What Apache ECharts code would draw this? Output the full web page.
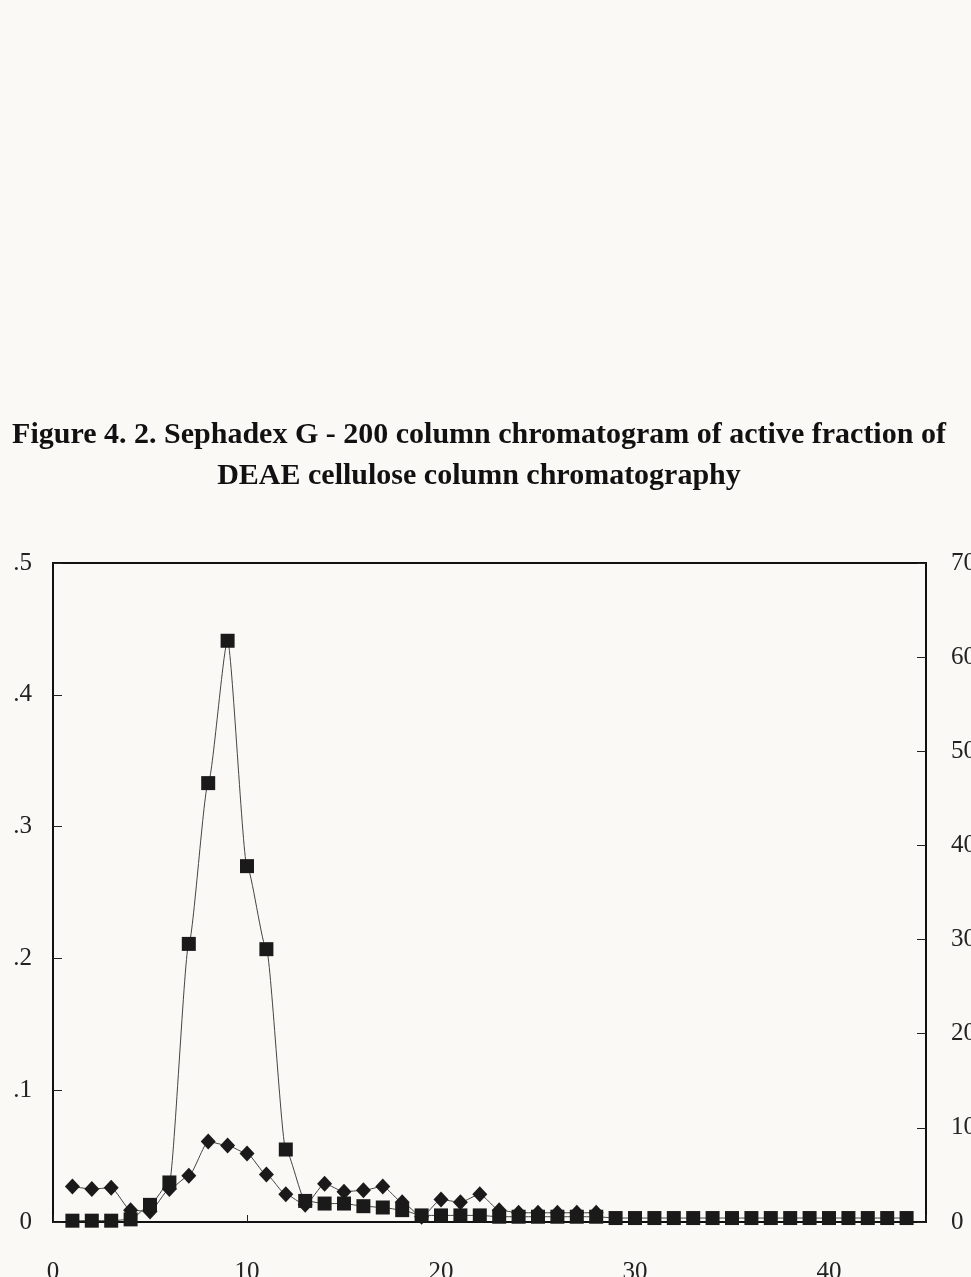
<!DOCTYPE html>
<html>
<head>
<meta charset="utf-8">
<script src="https://cdn.jsdelivr.net/npm/echarts@6/dist/echarts.min.js"></script>
<style>
html,body{margin:0;padding:0;background:#faf9f6;overflow:hidden;}
#c{width:971px;height:1277px;}
</style>
</head>
<body>
<div id="c"></div>
<script>
// Fraction numbers
var fractions = [1,2,3,4,5,6,7,8,9,10,11,12,13,14,15,16,17,18,19,20,21,22,23,24,25,26,27,28,29,30,31,32,33,34,35,36,37,38,39,40,41,42,43,44];
// Squares (left-axis scale values)
var squareValues = [0.001,0.001,0.001,0.002,0.013,0.030,0.211,0.333,0.441,0.270,0.207,0.055,0.016,0.014,0.014,0.012,0.011,0.009,0.005,0.005,0.005,0.005,0.004,0.004,0.004,0.004,0.004,0.004,0.003,0.003,0.003,0.003,0.003,0.003,0.003,0.003,0.003,0.003,0.003,0.003,0.003,0.003,0.003,0.003];
// Diamonds (left-axis scale values), fractions 1..28
var diamondValues = [0.027,0.025,0.026,0.009,0.008,0.025,0.035,0.061,0.058,0.052,0.036,0.021,0.013,0.029,0.023,0.024,0.027,0.015,0.004,0.017,0.015,0.021,0.009,0.007,0.007,0.007,0.007,0.007];
var leftTickLabels = {'0':'0','0.1':'.1','0.2':'.2','0.3':'.3','0.4':'.4','0.5':'.5'};
var rightTickLabels = ['0','10','20','30','40','50','60','70'];
var xTickLabels = ['0','10','20','30','40'];

function pairs(xs, ys){ return ys.map(function(v,i){ return [xs[i], v]; }); }

var chart = echarts.init(document.getElementById('c'), null, {renderer:'canvas'});
var serif = '"Liberation Serif","DejaVu Serif",serif';
chart.setOption({
  backgroundColor:'#faf9f6',
  animation:false,
  title:{
    text:'Figure 4. 2. Sephadex G - 200 column chromatogram of active fraction of\nDEAE cellulose column chromatography',
    left:474, top:410, textAlign:'center',
    textStyle:{fontFamily:serif, fontWeight:'bold', fontSize:30, lineHeight:41, color:'#111'}
  },
  grid:{left:53, right:45, top:563, bottom:55, outerBoundsMode:'none', containLabel:false,
        show:true, borderColor:'#111', borderWidth:2, backgroundColor:'transparent'},
  xAxis:{
    type:'value', min:0, max:45, interval:10,
    axisLine:{show:true, lineStyle:{color:'#111', width:2}},
    axisTick:{show:true, inside:true, length:7, lineStyle:{color:'#222', width:1}},
    axisLabel:{margin:38, fontFamily:serif, fontSize:25, color:'#222',
      formatter:function(v){ var i = xTickLabels.indexOf(String(v)); return i>=0 ? xTickLabels[i] : ''; }},
    splitLine:{show:false}
  },
  yAxis:[{
    type:'value', min:0, max:0.5, interval:0.1, position:'left',
    axisLine:{show:true, lineStyle:{color:'#111', width:2}},
    axisTick:{show:true, inside:true, length:9, lineStyle:{color:'#222', width:1}},
    axisLabel:{margin:21, fontFamily:serif, fontSize:25, color:'#222',
      formatter:function(v){ var k = String(Math.round(v*10)/10); return leftTickLabels[k] !== undefined ? leftTickLabels[k] : ''; }},
    splitLine:{show:false}
  },{
    type:'value', min:0, max:70, interval:10, position:'right',
    axisLine:{show:true, lineStyle:{color:'#111', width:2}},
    axisTick:{show:true, inside:true, length:9, lineStyle:{color:'#222', width:1}},
    axisLabel:{margin:25, fontFamily:serif, fontSize:25, color:'#222',
      formatter:function(v){ var i = rightTickLabels.indexOf(String(v)); return i>=0 ? rightTickLabels[i] : ''; }},
    splitLine:{show:false}
  }],
  series:[{
    name:'Diamonds', type:'line', yAxisIndex:0, smooth:0.2, smoothMonotone:'x',
    data:pairs(fractions, diamondValues),
    symbol:'diamond', symbolSize:[15,16],
    itemStyle:{color:'#1a1a1a'},
    lineStyle:{color:'#444', width:1}
  },{
    name:'Squares', type:'line', yAxisIndex:0, smooth:0.2, smoothMonotone:'x',
    data:pairs(fractions, squareValues),
    symbol:'rect', symbolSize:14,
    itemStyle:{color:'#1a1a1a'},
    lineStyle:{color:'#444', width:1}
  }]
});
</script>
</body>
</html>
